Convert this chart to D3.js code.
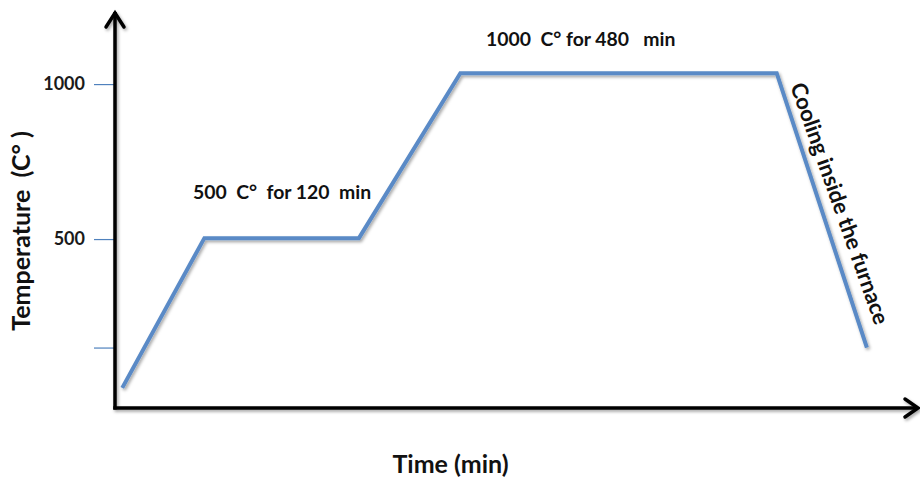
<!DOCTYPE html>
<html><head><meta charset="utf-8">
<script src="https://cdn.jsdelivr.net/npm/d3@7"></script>
<style>
html,body{margin:0;padding:0;background:#fff;}
svg{display:block;font-family:Lato,"Open Sans",sans-serif;}
</style></head>
<body><svg id="chart" width="920" height="482"></svg>
<script>
// schematic time positions (no time scale shown on the reference)
const stageTime = [0.9, 11.1, 30.3, 42.9, 82.2, 93.4];
// temperature (°C) at each stage point
const stageTemp = [20, 503, 503, 1035, 1035, 150];
const tickValues = [150, 500, 1000];
const tickLabels = ["", "500", "1000"];
const annotations = ["500  C°  for 120  min", "1000  C° for 480   min", "Cooling inside the furnace"];

const svg = d3.select("#chart");
const x = d3.scaleLinear().domain([0, 100]).range([115, 920]);
const y = d3.scaleLinear().domain([-45, 1239]).range([408, 10]);

const defs = svg.append("defs");
const f = defs.append("filter").attr("id","sh").attr("x","-20%").attr("y","-20%").attr("width","140%").attr("height","140%");
f.append("feDropShadow").attr("dx",1.5).attr("dy",2).attr("stdDeviation",1.5).attr("flood-color","#000").attr("flood-opacity",0.35);

// Y axis ticks and labels
const yAxis = d3.axisLeft(y).tickValues(tickValues).tickSize(21).tickPadding(9)
  .tickFormat((d,i)=>tickLabels[i]);
const gy = svg.append("g").attr("transform", `translate(${x(0)},0)`).call(yAxis);
gy.select(".domain").remove();
gy.selectAll(".tick line").attr("stroke","#4f81bd").attr("stroke-width",1.2);
gy.selectAll(".tick text").attr("fill","#1a1a1a").style("font-size","18px").style("font-weight","700")
  .style("font-family","Lato, sans-serif");

// axes lines with arrows
const axesG = svg.append("g").attr("filter","url(#sh)");
const x0 = x(0), y0 = y(-45), yTop = y(1239), xEnd = x(100) - 2;
axesG.append("path").attr("d", `M${x0},${y0+1.5}V${yTop+2}`).attr("stroke","#000").attr("stroke-width",3.5).attr("fill","none");
axesG.append("path").attr("d", `M${x0-1.7},${y0}H${xEnd}`).attr("stroke","#000").attr("stroke-width",3.5).attr("fill","none");
axesG.append("path").attr("d", `M${x0-9},${yTop+17}L${x0},${yTop+3}L${x0+9},${yTop+17}`)
  .attr("stroke","#000").attr("stroke-width",3.5).attr("fill","none").attr("stroke-linecap","round").attr("stroke-linejoin","miter");
axesG.append("path").attr("d", `M${xEnd-13},${y0-9}L${xEnd},${y0}L${xEnd-13},${y0+9}`)
  .attr("stroke","#000").attr("stroke-width",3.5).attr("fill","none").attr("stroke-linecap","round");

// data line
const data = stageTime.map((t,i)=>({t, v: stageTemp[i]}));
svg.append("path").datum(data)
  .attr("d", d3.line().x(d=>x(d.t)).y(d=>y(d.v)))
  .attr("fill","none").attr("stroke","#5a8ac6").attr("stroke-width",4).attr("stroke-linejoin","miter")
  .attr("filter","url(#sh)");

// annotations
const txt = (s, px, py, opts={}) => svg.append("text").attr("x",px).attr("y",py).text(s)
  .attr("fill","#111").style("font-size",(opts.size||19.4)+"px").style("font-weight","700")
  .attr("text-anchor",opts.anchor||"start").attr("transform",opts.rot?`rotate(${opts.rot},${px},${py})`:null)
  .style("white-space","pre");
txt(annotations[0], 193, 199);
txt(annotations[1], 486, 46);
txt(annotations[2], 790, 86, {rot: 70.5, size: 22});

// axis titles
txt("Time (min)", 450.5, 473, {anchor:"middle", size:25});
svg.append("text").attr("transform","translate(30,231) rotate(-90)").attr("text-anchor","middle")
  .attr("fill","#111").style("font-size","25px").style("font-weight","700").style("white-space","pre")
  .text("Temperature  (C° )");
</script></body></html>
